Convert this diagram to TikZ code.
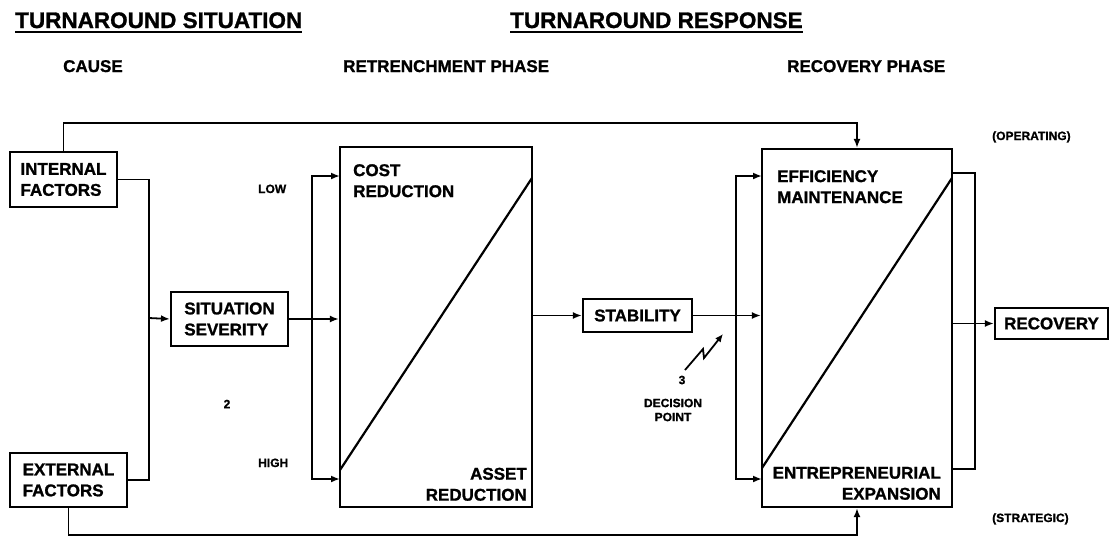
\documentclass[tikz,border=0pt]{standalone}
\usepackage{fontspec}
\setmainfont{Liberation Sans}[BoldFeatures={FakeBold=1.2}]
\usetikzlibrary{arrows.meta}
\tikzset{
  box/.style={draw, line width=2.2pt, inner sep=0pt, align=left, font=\bfseries\fontsize{17}{21}\selectfont},
  lbl/.style={inner sep=0pt, font=\bfseries\fontsize{17}{21}\selectfont},
  kopf/.style={inner sep=0pt, font=\bfseries\fontsize{22.5}{26}\selectfont},
  klein/.style={inner sep=0pt, align=center, font=\bfseries\fontsize{12}{14}\selectfont},
  linie/.style={line width=1.8pt},
  pfeil/.style={line width=1.8pt, -{Latex[length=9pt,width=7pt]}},
}

\begin{document}
\begin{tikzpicture}[x=1pt,y=-1pt]
  \useasboundingbox (0,0) rectangle (1111,539);

  % Ueberschriften
  \node[kopf, anchor=base west] (hsit) at (15,28) {TURNAROUND SITUATION};
  \node[kopf, anchor=base west] (hres) at (510,28) {TURNAROUND RESPONSE};
  \draw[line width=2pt] ([yshift=-3.5pt]hsit.base west) -- ([yshift=-3.5pt]hsit.base east);
  \draw[line width=2pt] ([yshift=-3.5pt]hres.base west) -- ([yshift=-3.5pt]hres.base east);
  \node[lbl, anchor=base west] (cause) at (63,72) {CAUSE};
  \node[lbl, anchor=base west] (retph) at (343,72) {RETRENCHMENT PHASE};
  \node[lbl, anchor=base west] (recph) at (787,72) {RECOVERY PHASE};

  % Kaesten
  \node[box, minimum width=107pt, minimum height=55pt] (internal) at (63.5,179.5) {INTERNAL\\FACTORS};
  \node[box, minimum width=117pt, minimum height=54pt] (external) at (68.5,480) {EXTERNAL\\FACTORS};
  \node[box, minimum width=117pt, minimum height=54pt] (situation) at (229.5,319) {SITUATION\\SEVERITY};
  \node[box, minimum width=192pt, minimum height=360pt] (retrench) at (436,327) {};
  \node[box, minimum width=109pt, minimum height=33pt] (stability) at (637.5,315.5) {STABILITY};
  \node[box, minimum width=190pt, minimum height=358pt] (recphase) at (857,328) {};
  \node[box, minimum width=113pt, minimum height=31pt] (recovery) at (1051.5,323.5) {RECOVERY};

  % Diagonalen
  \draw[line width=2.2pt] (340,470) -- (532,178);
  \draw[line width=2.2pt] (762,468) -- (952,178);
  \node[lbl, anchor=north west, align=left] (cost) at (353,164) {COST\\REDUCTION};
  \node[lbl, anchor=south east, align=right] (asset) at (527,501) {ASSET\\REDUCTION};
  \node[lbl, anchor=north west, align=left] (effic) at (777,170) {EFFICIENCY\\MAINTENANCE};
  \node[lbl, anchor=south east, align=right] (entre) at (941,500) {ENTREPRENEURIAL\\EXPANSION};

  % Kleine Beschriftungen
  \node[klein, anchor=base west] (low) at (258,193) {LOW};
  \node[klein, anchor=base west] (high) at (258,467) {HIGH};
  \node[klein] (zwei) at (227,404) {2};
  \node[klein] (drei) at (682,380) {3};
  \node[klein] (decision) at (673,410) {DECISION\\POINT};
  \node[klein, anchor=base west] (operating) at (992,140) {(OPERATING)};
  \node[klein, anchor=base west] (strategic) at (992,522) {(STRATEGIC)};

  % Verbindungen links
  \coordinate (oben) at (0,123);
  \coordinate (unten) at (0,535);
  \draw[pfeil] (internal.north) -- (internal.north |- oben) -| (recphase.north);
  \draw[pfeil] (external.south) -- (external.south |- unten) -| (recphase.south);
  \coordinate (sammel) at (149,318);
  \draw[linie] (internal.east) -| (sammel);
  \draw[linie] (external.east) -| (sammel);
  \draw[pfeil] (sammel) -- (situation.west);
  \draw[pfeil] (situation.east) -- (situation.east -| retrench.west);
  \coordinate (verteilL) at (312,320);
  \coordinate (lowin) at (340,176);
  \coordinate (highin) at (340,479);
  \draw[pfeil] (verteilL) |- (lowin);
  \draw[pfeil] (verteilL) |- (highin);

  % Verbindungen rechts
  \draw[pfeil] (stability.west -| retrench.east) -- (stability.west);
  \draw[pfeil] (stability.east) -- (stability.east -| recphase.west);
  \coordinate (verteilR) at (736,316);
  \coordinate (effin) at (762,176);
  \coordinate (entin) at (762,479);
  \draw[pfeil] (verteilR) |- (effin);
  \draw[pfeil] (verteilR) |- (entin);
  \coordinate (ausO) at (952,173);
  \coordinate (ausU) at (952,469);
  \draw[linie] (ausO) -- (975,173) -- (975,469) -- (ausU);
  \draw[pfeil] (recphase.east |- recovery.west) -- (recovery.west);

  % Entscheidungspunkt
  \draw[line width=1.8pt, -{Latex[length=8pt,width=7pt]}] (685,370) -- (703,349) -- (704,358) -- (723,334);
\end{tikzpicture}
\end{document}
